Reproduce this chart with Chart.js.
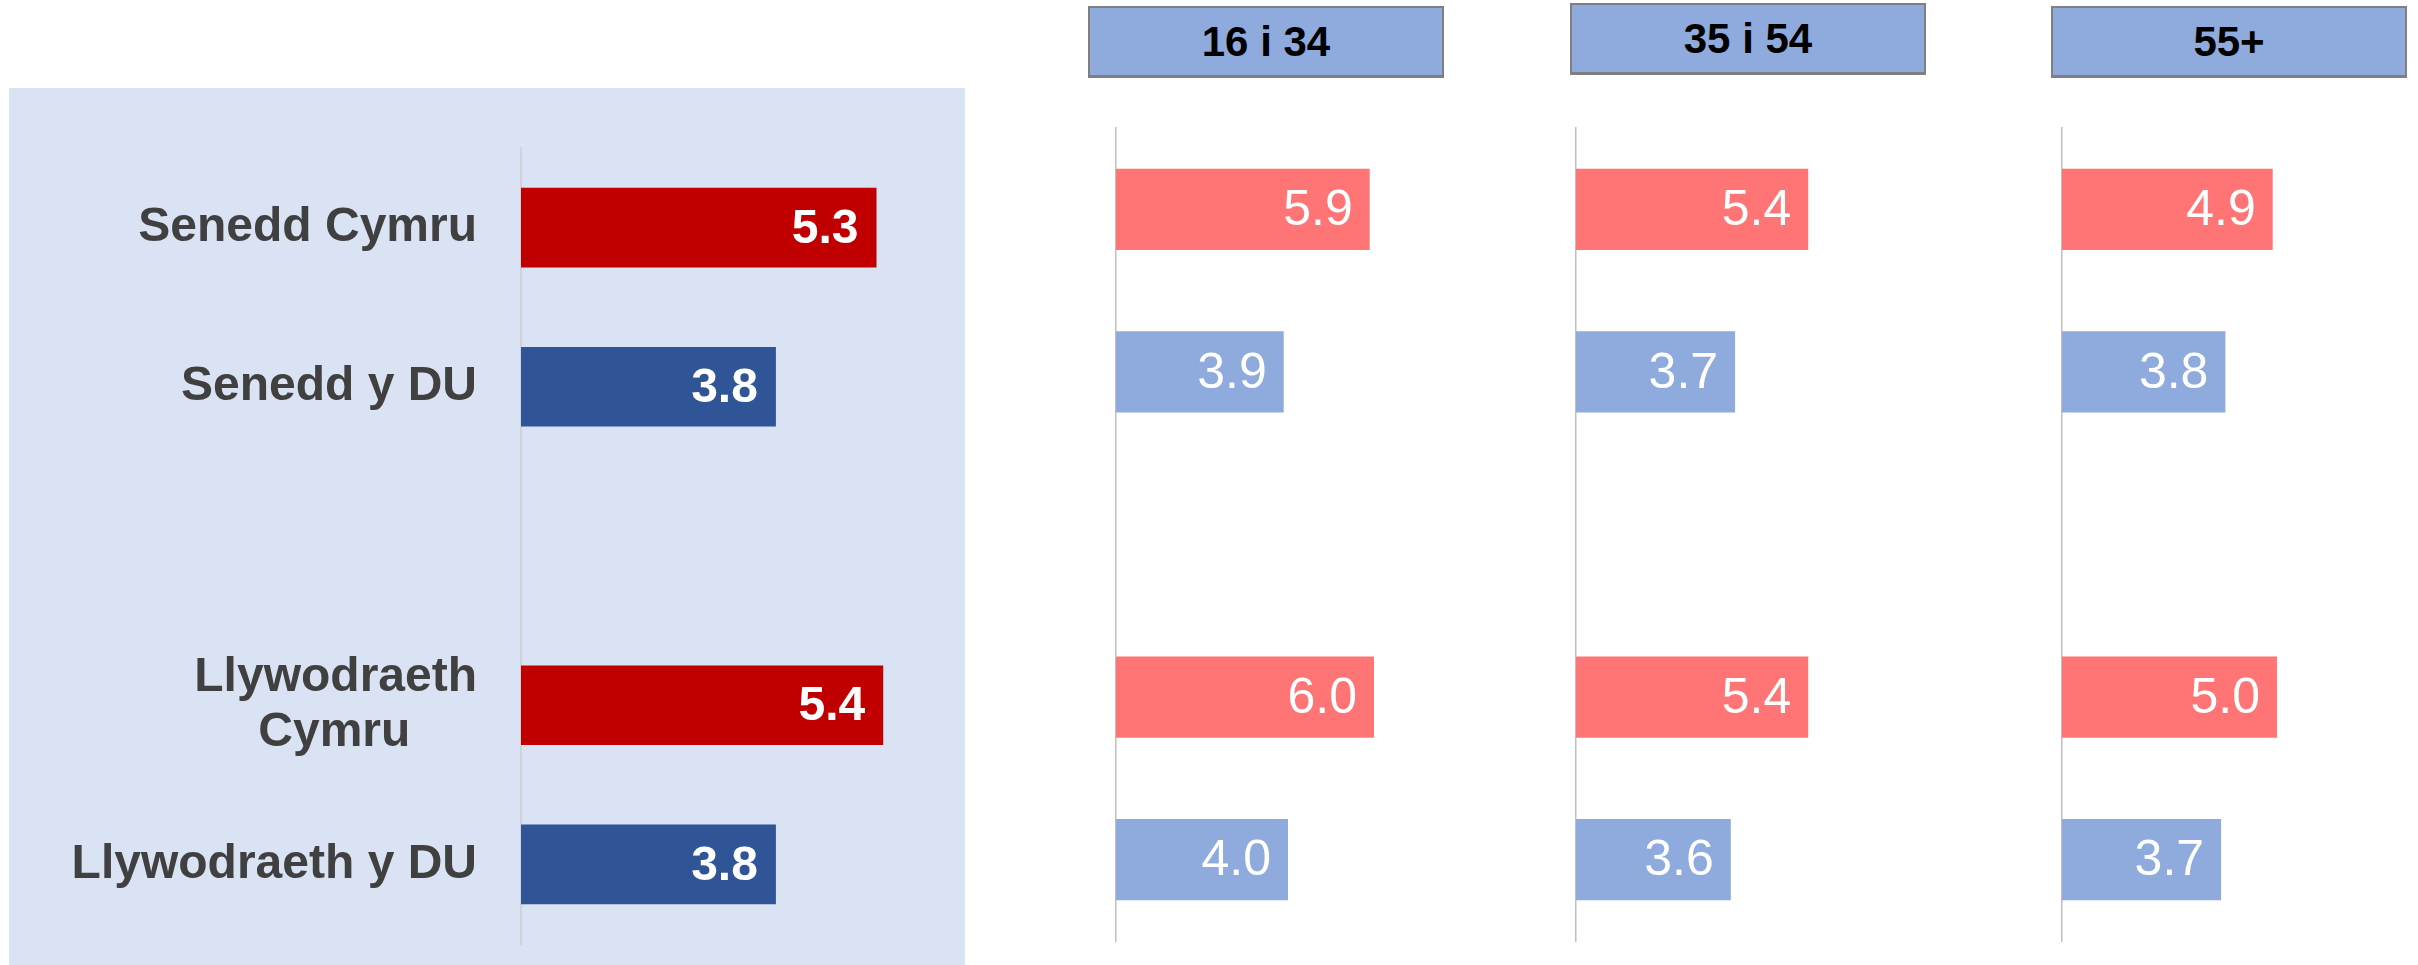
<!DOCTYPE html>
<html>
<head>
<meta charset="utf-8">
<title>Senedd a Llywodraeth - sgoriau</title>
<script src="https://cdn.jsdelivr.net/npm/chart.js@4.4.0/dist/chart.umd.min.js"></script>
<style>
    html, body { margin: 0; padding: 0; background: #fff; }
    body { width: 2418px; height: 965px; position: relative; overflow: hidden; font-family: "Liberation Sans", Arial, sans-serif; }
    .panel { position: absolute; }
    .overall { left: 9px; top: 88px; width: 956px; height: 877px; background: #dae3f3; }
    .age { top: 0; width: 350px; height: 965px; }
    .age-header {
        position: absolute; width: 356px; height: 72px; box-sizing: border-box;
        background: #8faadc; border: 2px solid #7f7f7f; border-bottom-width: 3px;
        text-align: center; line-height: 67px; font-weight: bold; font-size: 42px; color: #000; z-index: 2;
    }
</style>
</head>
<body>
<div class="panel overall"><canvas id="overallChart"></canvas></div>
<div class="panel age" style="left:1100px"><canvas id="ageChart0"></canvas></div>
<div class="panel age" style="left:1560px"><canvas id="ageChart1"></canvas></div>
<div class="panel age" style="left:2046px"><canvas id="ageChart2"></canvas></div>
<div class="age-header" id="ageHeader0" style="left:1088px; top:6px"></div>
<div class="age-header" id="ageHeader1" style="left:1570px; top:3px"></div>
<div class="age-header" id="ageHeader2" style="left:2051px; top:6px"></div>

<script>
// Data
const categories = ['Senedd Cymru', 'Senedd y DU', '', ['Llywodraeth', 'Cymru'], 'Llywodraeth y DU'];
const overallScores = [5.3, 3.8, null, 5.4, 3.8];
const ageGroups = ['16 i 34', '35 i 54', '55+'];
const scores16to34 = [5.9, 3.9, null, 6.0, 4.0];
const scores35to54 = [5.4, 3.7, null, 5.4, 3.6];
const scores55plus = [4.9, 3.8, null, 5.0, 3.7];

const fontFamily = '"Liberation Sans", Arial, sans-serif';

// Welsh institutions red, UK ones blue
function isWelsh(index) {
    const label = categories[index];
    return [].concat(label).join(' ').indexOf('Cymru') !== -1;
}

// Centre the lines of a wrapped label (Excel style) by padding the short line
function centreLines(label, font) {
    if (!Array.isArray(label)) return label;
    const ctx = document.createElement('canvas').getContext('2d');
    ctx.font = font;
    const widest = Math.max(...label.map(l => ctx.measureText(l).width));
    const space = ctx.measureText(' ').width;
    return label.map(l => l + ' '.repeat(Math.round((widest - ctx.measureText(l).width) / 2 / space)));
}

// Value labels at the inside end of each bar
const valueLabels = {
    id: 'valueLabels',
    afterDatasetsDraw(chart, args, opts) {
        const ctx = chart.ctx;
        const meta = chart.getDatasetMeta(0);
        const values = chart.data.datasets[0].data;
        ctx.save();
        ctx.font = opts.font;
        ctx.fillStyle = opts.color;
        ctx.textAlign = 'right';
        ctx.textBaseline = 'middle';
        meta.data.forEach((bar, i) => {
            if (values[i] === null) return;
            ctx.fillText(values[i].toFixed(1), bar.x - opts.padding, bar.y + 2);
        });
        ctx.restore();
    }
};

document.addEventListener('DOMContentLoaded', function() {
    Chart.defaults.font.family = fontFamily;
    Chart.defaults.animation = false;

    // Overall chart (left, shaded panel)
    const labelFont = 'bold 48px ' + fontFamily;
    new Chart(document.getElementById('overallChart'), {
        type: 'bar',
        data: {
            labels: categories,
            datasets: [{
                data: overallScores,
                backgroundColor: ctx => isWelsh(ctx.dataIndex) ? '#c00000' : '#2f5597',
                barPercentage: 0.5,
                categoryPercentage: 1
            }]
        },
        options: {
            indexAxis: 'y',
            responsive: true,
            maintainAspectRatio: false,
            layout: { padding: { top: 60, bottom: 21, left: 0, right: 8 } },
            scales: {
                x: { display: false, min: 0, max: 6.5 },
                y: {
                    grid: { display: false, drawTicks: false },
                    border: { display: true, color: '#d0d3d8', width: 2 },
                    afterFit: scale => {
                        // fixed label column, no extra room for the first/last label
                        scale.width = 512;
                        scale.paddingTop = 0;
                        scale.paddingBottom = 0;
                    },
                    ticks: {
                        padding: 44,
                        color: '#404040',
                        font: { size: 48, weight: 'bold', lineHeight: 1.15 },
                        callback: function(value) {
                            return centreLines(this.getLabelForValue(value), labelFont);
                        }
                    }
                }
            },
            plugins: {
                legend: { display: false },
                tooltip: { enabled: false },
                valueLabels: { font: 'bold 48px ' + fontFamily, color: '#ffffff', padding: 18 }
            }
        },
        plugins: [valueLabels]
    });

    // Age group charts (right)
    const ageScores = [scores16to34, scores35to54, scores55plus];
    ageScores.forEach((scores, n) => {
        document.getElementById('ageHeader' + n).textContent = ageGroups[n];
        new Chart(document.getElementById('ageChart' + n), {
            type: 'bar',
            data: {
                labels: categories,
                datasets: [{
                    data: scores,
                    backgroundColor: ctx => isWelsh(ctx.dataIndex) ? '#ff7575' : '#8faadc',
                    barPercentage: 0.5,
                    categoryPercentage: 1
                }]
            },
            options: {
                indexAxis: 'y',
                responsive: true,
                maintainAspectRatio: false,
                layout: { padding: { top: 128, bottom: 24, left: 16, right: 33 } },
                scales: {
                    x: { display: false, min: 0, max: 7 },
                    y: {
                        grid: { display: false, drawTicks: false },
                        border: { display: true, color: '#bfbfbf', width: 1.5 },
                        ticks: { display: false },
                        afterFit: scale => { scale.width = 0; }
                    }
                },
                plugins: {
                    legend: { display: false },
                    tooltip: { enabled: false },
                    valueLabels: { font: '50px ' + fontFamily, color: '#ffffff', padding: 17 }
                }
            },
            plugins: [valueLabels]
        });
    });
});
</script>
</body>
</html>
